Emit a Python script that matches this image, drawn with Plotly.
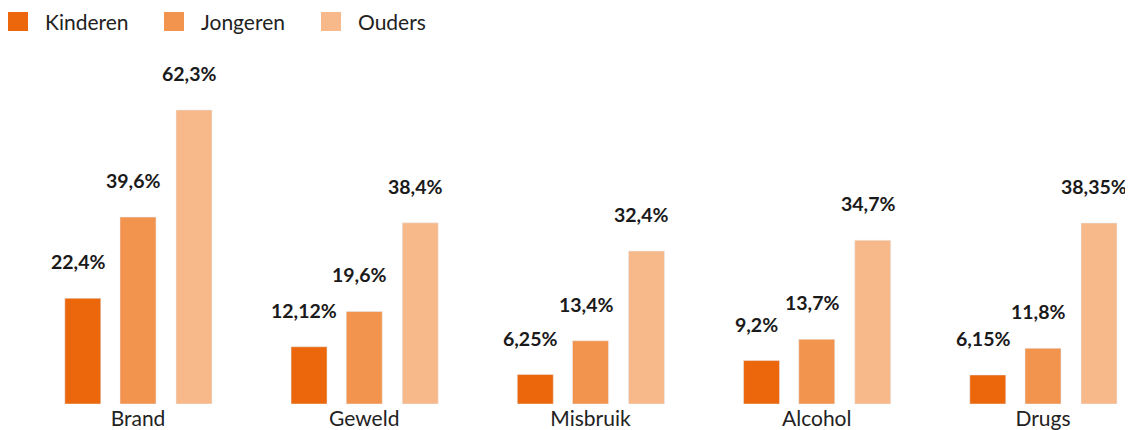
import plotly.graph_objects as go

categories = ["Brand", "Geweld", "Misbruik", "Alcohol", "Drugs"]
series_names = ["Kinderen", "Jongeren", "Ouders"]
kinderen = [22.4, 12.12, 6.25, 9.2, 6.15]
jongeren = [39.6, 19.6, 13.4, 13.7, 11.8]
ouders = [62.3, 38.4, 32.4, 34.7, 38.35]
labels_kinderen = ["22,4%", "12,12%", "6,25%", "9,2%", "6,15%"]
labels_jongeren = ["39,6%", "19,6%", "13,4%", "13,7%", "11,8%"]
labels_ouders = ["62,3%", "38,4%", "32,4%", "34,7%", "38,35%"]

colors = ["#EC670B", "#F2934E", "#F7B98A"]
offsets = [-0.244, 0.0, 0.2475]
bar_w = 0.159

W, H = 1133, 430
T, B = 60, 34
plot_h = H - T - B


def px_x(p):
    return p / W


def px_y(p):
    return (H - B - p) / plot_h


fig = go.Figure()
annotations = []
shapes = []
legend_x = [0, 156, 313]
for k, (name, vals, labs, col, off) in enumerate(zip(series_names, [kinderen, jongeren, ouders],
                                       [labels_kinderen, labels_jongeren, labels_ouders],
                                       colors, offsets)):
    xs = [i + off for i in range(len(categories))]
    fig.add_trace(go.Bar(x=xs, y=vals, width=bar_w, marker_color=col,
                         showlegend=False, name=name, hoverinfo="skip"))
    for x, v, t in zip(xs, vals, labs):
        annotations.append(dict(x=x, y=v, text="<b>" + t + "</b>", showarrow=False,
                                xanchor="center", yanchor="bottom", yshift=23, xshift=-5,
                                font=dict(family="Lato", size=19.5, color="#1a1a1a")))
    # legend entry
    lx = legend_x[k]
    shapes.append(dict(type="rect", xref="paper", yref="paper",
                       x0=px_x(lx), x1=px_x(lx + 20), y0=px_y(23), y1=px_y(4),
                       fillcolor=col, line=dict(width=0)))
    annotations.append(dict(x=px_x(lx + 35), y=px_y(13), xref="paper", yref="paper",
                            text=name, showarrow=False, xanchor="left", yanchor="middle",
                            font=dict(family="Lato", size=21, color="#222222")))

fig.update_layout(
    width=W, height=H,
    margin=dict(l=0, r=0, t=T, b=B),
    plot_bgcolor="white", paper_bgcolor="white",
    font=dict(family="Lato", color="#222222"),
    annotations=annotations,
    shapes=shapes,
    showlegend=False,
    xaxis=dict(range=[-0.5746, 4.4332], tickvals=list(range(len(categories))),
               ticktext=categories, showgrid=False, zeroline=False, showline=False,
               ticks="", tickfont=dict(family="Lato", size=21, color="#222222")),
    yaxis=dict(range=[0, plot_h / 4.72], visible=False, showgrid=False, zeroline=False),
)

fig.write_html("out.html")
